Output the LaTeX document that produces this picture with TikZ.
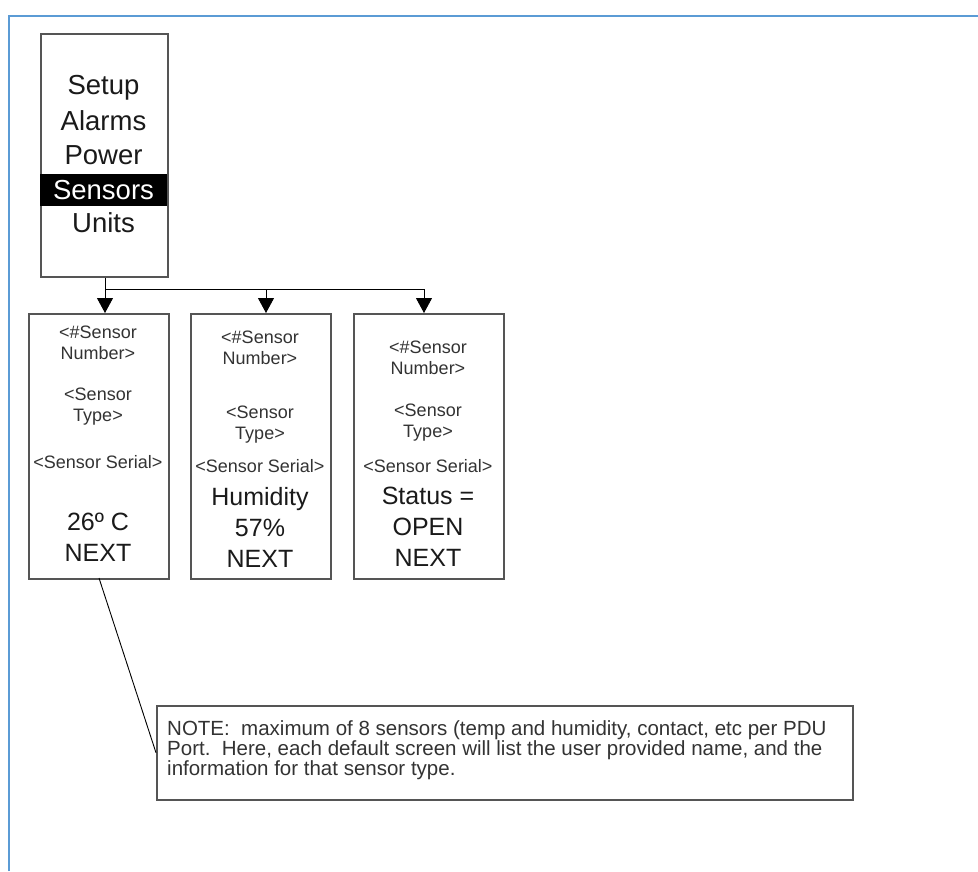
\documentclass[tikz,border=0pt]{standalone}
\usepackage{fontspec}
\setmainfont{Liberation Sans}
\usetikzlibrary{arrows.meta}
\definecolor{frameblue}{HTML}{5B9BD5}
\definecolor{boxgray}{HTML}{555555}
\definecolor{txtdark}{HTML}{1A1A1A}
\definecolor{txtsmall}{HTML}{333333}
\begin{document}
\begin{tikzpicture}[x=1pt,y=-1pt,
  screen/.style={draw=boxgray, line width=1.7pt, fill=white, inner sep=0pt, anchor=north west},
  menutxt/.style={font=\fontsize{27.5}{33}\selectfont, text=txtdark, inner sep=0pt},
  bigtxt/.style={font=\fontsize{25}{31}\selectfont, text=txtdark, inner sep=0pt, align=center},
  smalltxt/.style={font=\fontsize{18}{21}\selectfont, text=txtsmall, inner sep=0pt, align=center},
  notetxt/.style={font=\fontsize{20.5}{20}\selectfont, text=txtsmall, inner sep=0pt, align=left, anchor=north west},
  conn/.style={line width=0.9pt, black},
  tipped/.style={conn, -{Triangle[width=16pt,length=15pt]}}]
\useasboundingbox (0,0) rectangle (978,871);
% blue frame
\draw[frameblue, line width=2pt] (9,871) -- (9,16) -- (978,16);
% menu screen
\node[screen, minimum width=127pt, minimum height=243pt] (menu) at (40,33) {};
\fill[black] (40,174) rectangle (167,206);
\node[menutxt] (m1) at (103.5,88) {Setup};
\node[menutxt] (m2) at (103.5,121) {Alarms};
\node[menutxt] (m3) at (103.5,155) {Power};
\node[menutxt, text=white] (m4) at (103.5,190) {Sensors};
\node[menutxt] (m5) at (103.5,223) {Units};
% sensor screens
\node[screen, minimum width=140pt, minimum height=265pt] (s1) at (28,313) {};
\node[screen, minimum width=140pt, minimum height=265pt] (s2) at (190,313) {};
\node[screen, minimum width=150pt, minimum height=265pt] (s3) at (353,313) {};
% screen 1 text
\node[smalltxt] (a1) at (98,343) {<\#Sensor\\Number>};
\node[smalltxt] (a2) at (98,407) {<Sensor\\Type>};
\node[smalltxt] (a3) at (98,462) {<Sensor Serial>};
\node[bigtxt] (a4) at (98,537) {26º C\\NEXT};
% screen 2 text
\node[smalltxt] (b1) at (260,348) {<\#Sensor\\Number>};
\node[smalltxt] (b2) at (260,425) {<Sensor\\Type>};
\node[smalltxt] (b3) at (260,466) {<Sensor Serial>};
\node[bigtxt] (b4) at (260,527) {Humidity\\57\%\\NEXT};
% screen 3 text
\node[smalltxt] (c1) at (428,358) {<\#Sensor\\Number>};
\node[smalltxt] (c2) at (428,423) {<Sensor\\Type>};
\node[smalltxt] (c3) at (428,466) {<Sensor Serial>};
\node[bigtxt] (c4) at (428,527) {Status =\\OPEN\\NEXT};
% note
\node[screen, minimum width=696pt, minimum height=94pt, line width=1.5pt] (note) at (156,705) {};
\node[notetxt] (nt) at (167,720) {NOTE:\ \ maximum of 8 sensors (temp and humidity, contact, etc per PDU\\Port.\ \ Here, each default screen will list the user provided name, and the\\information for that sensor type.};
% connectors
\coordinate (j1) at (105,289);
\coordinate (j2) at (266,289);
\coordinate (j3) at (424,289);
\draw[tipped] (menu.south -| j1) -- (s1.north -| j1);
\draw[conn] (j1) -- (j3);
\draw[tipped] (j2) -- (s2.north -| j2);
\draw[tipped] (j3) -- (s3.north -| j3);
\coordinate (lk) at (99,578);
\draw[conn] (lk) -- (note.west);
\end{tikzpicture}
\end{document}
